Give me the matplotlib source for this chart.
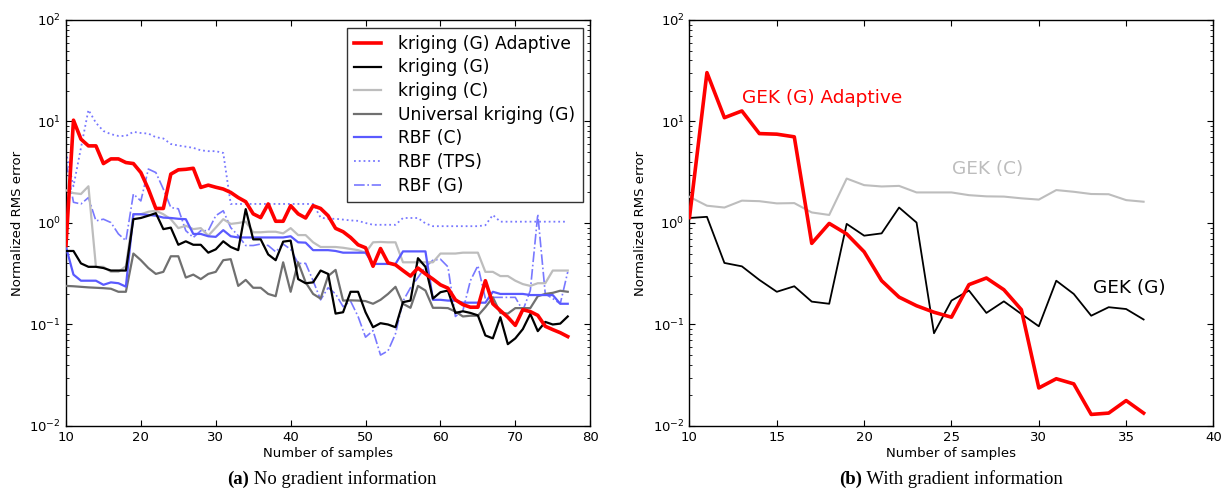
import numpy as np
import matplotlib
matplotlib.use("Agg")
import matplotlib.pyplot as plt
from matplotlib.ticker import LogLocator

# ---- data: (a) no gradient information, samples 10..77
n_a = np.arange(10, 78)
krig_g_adapt = [0.6, 10.3, 6.7, 5.75, 5.75, 3.85, 4.28, 4.28, 3.94, 3.85,
                3.14, 2.16, 1.39, 1.39, 3.03, 3.34, 3.38, 3.46, 2.24, 2.36,
                2.25, 2.16, 2.0, 1.78, 1.62, 1.23, 1.13, 1.54, 1.04, 1.04,
                1.48, 1.23, 1.12, 1.48, 1.39, 1.18, 0.885, 0.82, 0.72, 0.61,
                0.57, 0.375, 0.56, 0.405, 0.387, 0.34, 0.30, 0.36, 0.315, 0.28,
                0.246, 0.228, 0.175, 0.157, 0.148, 0.148, 0.27, 0.16, 0.137, 0.118,
                0.098, 0.14, 0.134, 0.123, 0.096, 0.089, 0.083, 0.076]
krig_g = [0.53, 0.53, 0.40, 0.37, 0.37, 0.36, 0.34, 0.34, 0.34, 1.09,
          1.12, 1.18, 1.25, 0.87, 0.9, 0.61, 0.66, 0.61, 0.61, 0.51,
          0.55, 0.66, 0.58, 0.54, 1.37, 0.69, 0.69, 0.49, 0.43, 0.655,
          0.67, 0.28, 0.255, 0.26, 0.34, 0.315, 0.128, 0.132, 0.21, 0.21,
          0.132, 0.094, 0.103, 0.10, 0.094, 0.166, 0.172, 0.45, 0.37, 0.18,
          0.208, 0.216, 0.13, 0.135, 0.13, 0.123, 0.078, 0.073, 0.118, 0.064,
          0.073, 0.09, 0.127, 0.086, 0.106, 0.1, 0.102, 0.12]
krig_c = [2.1, 1.97, 1.93, 2.3, 0.37, 0.37, 0.33, 0.33, 0.375, 1.22,
          1.22, 1.29, 1.32, 1.22, 1.09, 0.89, 0.94, 0.87, 0.89, 0.75,
          0.9, 1.09, 0.98, 1.0, 1.03, 0.81, 0.81, 0.82, 0.82, 0.79,
          0.89, 0.76, 0.76, 0.645, 0.58, 0.58, 0.58, 0.57, 0.555, 0.54,
          0.51, 0.645, 0.65, 0.645, 0.645, 0.41, 0.41, 0.41, 0.41, 0.41,
          0.5, 0.5, 0.5, 0.51, 0.51, 0.51, 0.33, 0.33, 0.3, 0.3,
          0.27, 0.25, 0.24, 0.255, 0.255, 0.34, 0.34, 0.34]
univ_krig_g = [0.24, 0.238, 0.235, 0.232, 0.23, 0.228, 0.225, 0.21, 0.21, 0.5,
               0.43, 0.36, 0.315, 0.33, 0.47, 0.47, 0.29, 0.31, 0.28, 0.315,
               0.33, 0.43, 0.44, 0.24, 0.275, 0.23, 0.23, 0.2, 0.19, 0.41,
               0.21, 0.41, 0.26, 0.2, 0.18, 0.30, 0.345, 0.172, 0.173, 0.172,
               0.17, 0.16, 0.175, 0.2, 0.235, 0.16, 0.146, 0.24, 0.216, 0.146,
               0.146, 0.145, 0.134, 0.12, 0.122, 0.122, 0.148, 0.185, 0.13, 0.128,
               0.145, 0.145, 0.145, 0.19, 0.2, 0.205, 0.215, 0.21]
rbf_c = [0.58, 0.31, 0.27, 0.27, 0.27, 0.246, 0.26, 0.255, 0.236, 1.22,
         1.22, 1.2, 1.18, 1.13, 1.12, 1.1, 1.09, 0.78, 0.78, 0.74,
         0.73, 0.85, 0.74, 0.72, 0.72, 0.72, 0.72, 0.72, 0.72, 0.72,
         0.74, 0.645, 0.64, 0.54, 0.54, 0.54, 0.53, 0.51, 0.51, 0.51,
         0.51, 0.395, 0.395, 0.395, 0.395, 0.525, 0.525, 0.525, 0.525, 0.175,
         0.175, 0.172, 0.172, 0.164, 0.164, 0.164, 0.164, 0.21, 0.2, 0.2,
         0.2, 0.2, 0.195, 0.195, 0.195, 0.195, 0.16, 0.16]
rbf_tps = [5.0, 2.3, 5.5, 13.0, 9.7, 8.06, 7.5, 7.2, 7.2, 7.9,
           7.7, 7.6, 7.0, 6.8, 6.0, 5.8, 5.65, 5.5, 5.2, 5.1,
           5.1, 4.9, 1.54, 1.54, 1.54, 1.54, 1.54, 1.54, 1.54, 1.54,
           1.54, 1.54, 1.54, 1.54, 1.13, 1.1, 1.1, 1.08, 1.06, 1.05,
           1.0, 0.96, 0.96, 0.96, 0.96, 1.12, 1.12, 1.12, 0.99, 0.93,
           0.93, 0.93, 0.93, 0.93, 0.93, 0.93, 0.95, 1.2, 1.03, 1.03,
           1.03, 1.03, 1.03, 1.03, 1.03, 1.03, 1.03, 1.03]
rbf_g = [4.0, 1.6, 1.54, 1.78, 1.05, 1.09, 1.01, 0.78, 0.67, 1.93,
         1.65, 3.4, 3.14, 2.16, 1.42, 1.38, 0.84, 0.72, 0.84, 0.84,
         1.18, 1.32, 0.9, 0.75, 0.6, 0.6, 0.62, 0.6, 0.52, 0.62,
         0.55, 0.4, 0.4, 0.27, 0.175, 0.23, 0.2, 0.15, 0.17, 0.12,
         0.075, 0.087, 0.05, 0.055, 0.081, 0.17, 0.23, 0.29, 0.37, 0.43,
         0.44, 0.37, 0.12, 0.137, 0.27, 0.38, 0.18, 0.185, 0.185, 0.185,
         0.185, 0.137, 0.216, 1.22, 0.2, 0.18, 0.16, 0.33]

# ---- data: (b) with gradient information, samples 10..36
n_b = np.arange(10, 37)
gek_g_adapt = [1.13, 30.3, 10.9, 12.7, 7.6, 7.5, 7.06, 0.63, 0.99, 0.78,
               0.52, 0.27, 0.186, 0.153, 0.132, 0.118, 0.247, 0.287, 0.22, 0.14,
               0.0237, 0.0292, 0.026, 0.013, 0.0134, 0.0178, 0.0134]
gek_g = [1.12, 1.15, 0.404, 0.374, 0.275, 0.21, 0.238, 0.168, 0.16, 0.98,
         0.75, 0.79, 1.42, 1.01, 0.082, 0.172, 0.216, 0.13, 0.169, 0.127,
         0.096, 0.27, 0.2, 0.122, 0.148, 0.142, 0.112]
gek_c = [1.81, 1.48, 1.42, 1.66, 1.64, 1.56, 1.57, 1.27, 1.2, 2.74,
         2.36, 2.29, 2.32, 2.0, 2.0, 2.0, 1.88, 1.83, 1.82, 1.75,
         1.7, 2.11, 2.03, 1.93, 1.92, 1.68, 1.62]

RED = '#ff0000'
LGRAY = '#bdbdbd'
DGRAY = '#707070'
BLUE = '#5a5aff'
LBLUE = '#7878ff'

fig = plt.figure(figsize=(12.24, 4.91), dpi=100)
ax1 = fig.add_axes([0.0539, 0.1324, 0.4283, 0.8269])
ax2 = fig.add_axes([0.5633, 0.1324, 0.4281, 0.8269])


def style(ax, xmax, xstep):
    ax.set_yscale('log')
    ax.set_ylim(1e-2, 1e2)
    ax.set_xlim(10, xmax)
    ax.set_xticks(np.arange(10, xmax + 1, xstep))
    ax.yaxis.set_major_locator(LogLocator(base=10, numticks=10))
    ax.yaxis.set_minor_locator(LogLocator(base=10, subs=np.arange(2, 10), numticks=10))
    ax.tick_params(which='both', direction='in', top=True, right=True, labelsize=9.5)
    ax.tick_params(which='major', length=4.5, width=0.8)
    ax.tick_params(which='minor', length=2.5, width=0.6)
    ax.set_xlabel('Number of samples', fontsize=9.5, labelpad=2)
    ax.set_ylabel('Normalized RMS error', fontsize=9.5, labelpad=4)
    for s in ax.spines.values():
        s.set_linewidth(1.0)


ax1.plot(n_a, krig_g_adapt, color=RED, lw=2.6, label='kriging (G) Adaptive', zorder=5)
ax1.plot(n_a, krig_g, color='black', lw=1.6, label='kriging (G)', zorder=4)
ax1.plot(n_a, krig_c, color=LGRAY, lw=1.6, label='kriging (C)', zorder=3)
ax1.plot(n_a, univ_krig_g, color=DGRAY, lw=1.6, label='Universal kriging (G)', zorder=3)
ax1.plot(n_a, rbf_c, color=BLUE, lw=1.6, label='RBF (C)', zorder=3)
ax1.plot(n_a, rbf_tps, color=LBLUE, lw=1.3, ls=':', label='RBF (TPS)', zorder=2)
ax1.plot(n_a, rbf_g, color=LBLUE, lw=1.2, ls='-.', label='RBF (G)', zorder=2)
style(ax1, 80, 10)
leg = ax1.legend(loc='upper right', fontsize=12.3, frameon=True, fancybox=False,
                 handlelength=1.6, handletextpad=1.0, borderaxespad=0.45,
                 labelspacing=0.33, borderpad=0.42)
leg.get_frame().set_edgecolor('black')
leg.get_frame().set_linewidth(1.0)

ax2.plot(n_b, gek_g_adapt, color=RED, lw=2.6, zorder=5)
ax2.plot(n_b, gek_g, color='black', lw=1.3, zorder=4)
ax2.plot(n_b, gek_c, color=LGRAY, lw=1.5, zorder=3)
ax2.text(13.0, 16.9, 'GEK (G) Adaptive', color=RED, fontsize=13.3, va='center')
ax2.text(25.05, 3.4, 'GEK (C)', color=LGRAY, fontsize=13.3, va='center')
ax2.text(33.1, 0.23, 'GEK (G)', color='black', fontsize=13.3, va='center')
style(ax2, 40, 5)

# captions with bold panel letter
serif = ['Liberation Serif', 'DejaVu Serif']
r = fig.canvas.get_renderer()
for cx, letter, rest in [(0.271, '(a)', ' No gradient information'),
                         (0.777, '(b)', ' With gradient information')]:
    t1 = fig.text(0, 0.006, letter, fontsize=13.5, family=serif, weight='bold', va='bottom')
    t2 = fig.text(0, 0.006, rest, fontsize=13.5, family=serif, va='bottom')
    w1 = t1.get_window_extent(r).width / fig.bbox.width
    w2 = t2.get_window_extent(r).width / fig.bbox.width
    x0 = cx - (w1 + w2) / 2
    t1.set_x(x0)
    t2.set_x(x0 + w1)

fig.savefig('out.png', dpi=100)
